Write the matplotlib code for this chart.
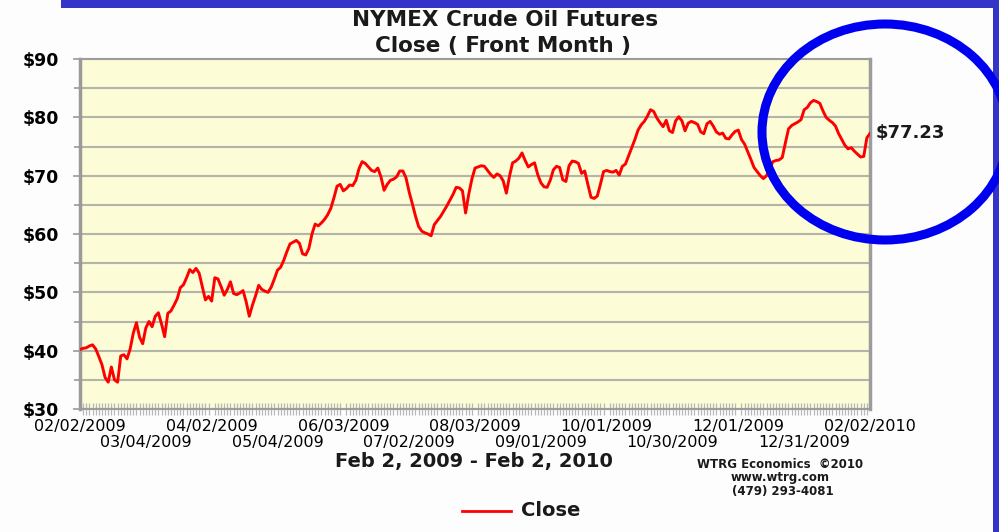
import matplotlib
matplotlib.use("Agg")
import matplotlib.pyplot as plt
from matplotlib.patches import Ellipse, Rectangle
import matplotlib.transforms as mtransforms
import numpy as np

# ---------------- data ----------------
close = [
    40.2, 40.4, 40.5, 40.8, 41.0, 40.3, 39.0, 37.6, 35.4, 34.6,
    37.2, 35.0, 34.6, 39.1, 39.3, 38.6, 40.3, 43.0, 44.8, 42.3,
    41.2, 43.9, 45.0, 44.1, 45.9, 46.5, 44.6, 42.4, 46.4, 46.8,
    47.8, 48.9, 50.8, 51.3, 52.5, 53.9, 53.4, 54.1, 53.3, 51.0,
    48.7, 49.3, 48.5, 52.5, 52.3, 51.0, 49.5, 50.5, 51.8, 49.8,
    49.6, 49.9, 50.3, 48.4, 45.9, 47.8, 49.4, 51.2, 50.5, 50.2,
    50.0, 50.9, 52.3, 53.8, 54.3, 55.5, 57.0, 58.3, 58.6, 58.9,
    58.4, 56.6, 56.4, 57.5, 60.0, 61.7, 61.4, 61.9, 62.5, 63.3,
    64.4, 66.2, 68.2, 68.5, 67.4, 67.8, 68.4, 68.3, 69.2, 71.2,
    72.4, 72.1, 71.5, 70.9, 70.7, 71.3, 69.8, 67.5, 68.5, 69.2,
    69.4, 69.8, 70.8, 70.8, 69.6, 67.2, 65.2, 63.1, 61.3, 60.5,
    60.2, 60.0, 59.7, 61.6, 62.3, 63.0, 63.9, 64.8, 65.8, 66.8,
    68.0, 67.9, 67.4, 63.6, 66.8, 69.4, 71.3, 71.5, 71.7, 71.6,
    70.9, 70.2, 69.7, 70.3, 70.0, 69.1, 67.0, 69.9, 72.2, 72.5,
    73.0, 73.9, 72.6, 71.5, 71.9, 72.2, 70.2, 68.8, 68.1, 68.0,
    69.2, 71.0, 71.6, 71.4, 69.3, 69.0, 71.7, 72.5, 72.4, 72.1,
    70.4, 70.8, 68.5, 66.3, 66.1, 66.5, 68.5, 70.7, 70.9, 70.7,
    70.6, 70.9, 70.1, 71.6, 72.0, 73.4, 74.8, 76.2, 77.8, 78.7,
    79.3, 80.2, 81.3, 81.0, 79.9, 79.1, 78.4, 79.5, 77.7, 77.4,
    79.4, 80.1, 79.4, 77.7, 79.0, 79.3, 79.1, 78.8, 77.5, 77.2,
    78.9, 79.3, 78.5, 77.5, 77.1, 77.3, 76.4, 76.3, 77.0, 77.6,
    77.8, 76.2, 75.4, 74.1, 72.8, 71.4, 70.7, 70.0, 69.5, 70.0,
    71.2, 72.4, 72.6, 72.7, 73.1, 75.6, 78.0, 78.6, 78.9, 79.2,
    79.6, 81.3, 81.7, 82.5, 82.9, 82.7, 82.4, 81.1, 80.0, 79.5,
    79.1, 78.5, 77.2, 76.2, 75.2, 74.6, 74.8, 74.2, 73.7, 73.2,
    73.3, 76.5, 77.23,
]
tick_labels = [
    "02/02/2009", "03/04/2009", "04/02/2009", "05/04/2009", "06/03/2009",
    "07/02/2009", "08/03/2009", "09/01/2009", "10/01/2009", "10/30/2009",
    "12/01/2009", "12/31/2009", "02/02/2010",
]
y_ticks = [30, 40, 50, 60, 70, 80, 90]
last_value_label = "$77.23"
series_name = "Close"

# ---------------- figure ----------------
W, H = 999, 532
fig = plt.figure(figsize=(W / 100, H / 100), dpi=100)
fig.patch.set_facecolor("#FDFDFD")

FONT = "DejaVu Sans"
ax = fig.add_axes([80 / W, 1 - 409 / H, 790 / W, 350 / H])
ax.set_facecolor("#FCFCD6")

x = np.arange(len(close))
ax.plot(x, close, color="#FF0000", lw=2.1, zorder=3, solid_joinstyle="round")

ax.set_xlim(0, len(close) - 1)
ax.set_ylim(30, 90)

# y axis
ax.set_yticks(y_ticks)
ax.set_yticks(np.arange(35, 90, 10), minor=True)
ax.set_yticklabels([f"${v}" for v in y_ticks], fontsize=12.5,
                   fontweight="bold", family=FONT)
ax.tick_params(axis="y", which="major", length=5, width=1.2, color="#9A9A9A",
               pad=10)
ax.tick_params(axis="y", which="minor", length=4, width=1.2, color="#9A9A9A")
ax.grid(axis="y", which="both", color="#B4B4A8", lw=1.5, zorder=1)

# x axis: two staggered label rows
step = (len(close) - 1) // (len(tick_labels) - 1)
pos = np.arange(0, len(close), step)[: len(tick_labels)]
ax.set_xticks(pos[::2])
ax.set_xticklabels(tick_labels[::2], fontsize=11.5, family=FONT)
trans = mtransforms.blended_transform_factory(ax.transData, fig.transFigure)
for p, lab in zip(pos[1::2], tick_labels[1::2]):
    ax.text(p, 1 - 442 / H, lab, transform=trans, ha="center", va="center",
            fontsize=11.5, family=FONT, clip_on=False)
ax.set_xticks(x, minor=True)
ax.tick_params(axis="x", which="major", length=0, pad=7)
ax.tick_params(axis="x", which="minor", direction="inout", length=8,
               width=0.9, color="#B8B8B8")

for side in ["top", "bottom", "right"]:
    ax.spines[side].set_color("#9C9C9C")
    ax.spines[side].set_linewidth(1.5)
ax.spines["right"].set_linewidth(2.5)
ax.spines["left"].set_color("#9A9A9A")
ax.spines["left"].set_linewidth(2.5)

# last value label
ax.annotate(last_value_label, xy=(1.0, close[-1]),
            xycoords=("axes fraction", "data"), xytext=(4, 0),
            textcoords="offset points", ha="left", va="center",
            fontsize=13, fontweight="bold", family=FONT, color="#1A1A1A",
            annotation_clip=False)

# titles / texts
fig.text(505 / W, 1 - 20 / H, "NYMEX Crude Oil Futures", ha="center",
         va="center", fontsize=15.5, fontweight="bold", family=FONT,
         color="#1A1A1A")
fig.text(503 / W, 1 - 46 / H, "Close ( Front Month )", ha="center",
         va="center", fontsize=15.5, fontweight="bold", family=FONT,
         color="#1A1A1A")
fig.text(474 / W, 1 - 461 / H, "Feb 2, 2009 - Feb 2, 2010", ha="center",
         va="center", fontsize=14, fontweight="bold", family=FONT,
         color="#1A1A1A")
fig.text(780 / W, 1 - 465 / H, "WTRG Economics  \u00a92010", ha="center",
         va="center", fontsize=8.5, fontweight="bold", family=FONT,
         color="#1A1A1A")
fig.text(780 / W, 1 - 478 / H, "www.wtrg.com", ha="center",
         va="center", fontsize=8.5, fontweight="bold", family=FONT,
         color="#1A1A1A")
fig.text(783 / W, 1 - 491 / H, "(479) 293-4081", ha="center",
         va="center", fontsize=8.5, fontweight="bold", family=FONT,
         color="#1A1A1A")

# overlay axes in pixel coordinates
ov = fig.add_axes([0, 0, 1, 1], facecolor="none")
ov.set_xlim(0, W)
ov.set_ylim(H, 0)
ov.axis("off")

# legend
ov.plot([462, 511], [511, 511], color="#FF0000", lw=2)
ov.text(521, 511, series_name, ha="left", va="center", fontsize=14,
        fontweight="bold", family=FONT, color="#1A1A1A")

# blue frame
ov.add_patch(Rectangle((61, 0), W - 61, 8, color="#3434C8", lw=0))
ov.add_patch(Rectangle((993, 0), 6, H, color="#3434C8", lw=0))

# blue highlight ellipse
ov.add_patch(Ellipse((885, 132), 246, 216, fill=False, ec="#0000F0",
                     lw=6.5, clip_on=True))

fig.savefig("out.png", dpi=100, facecolor=fig.get_facecolor())
